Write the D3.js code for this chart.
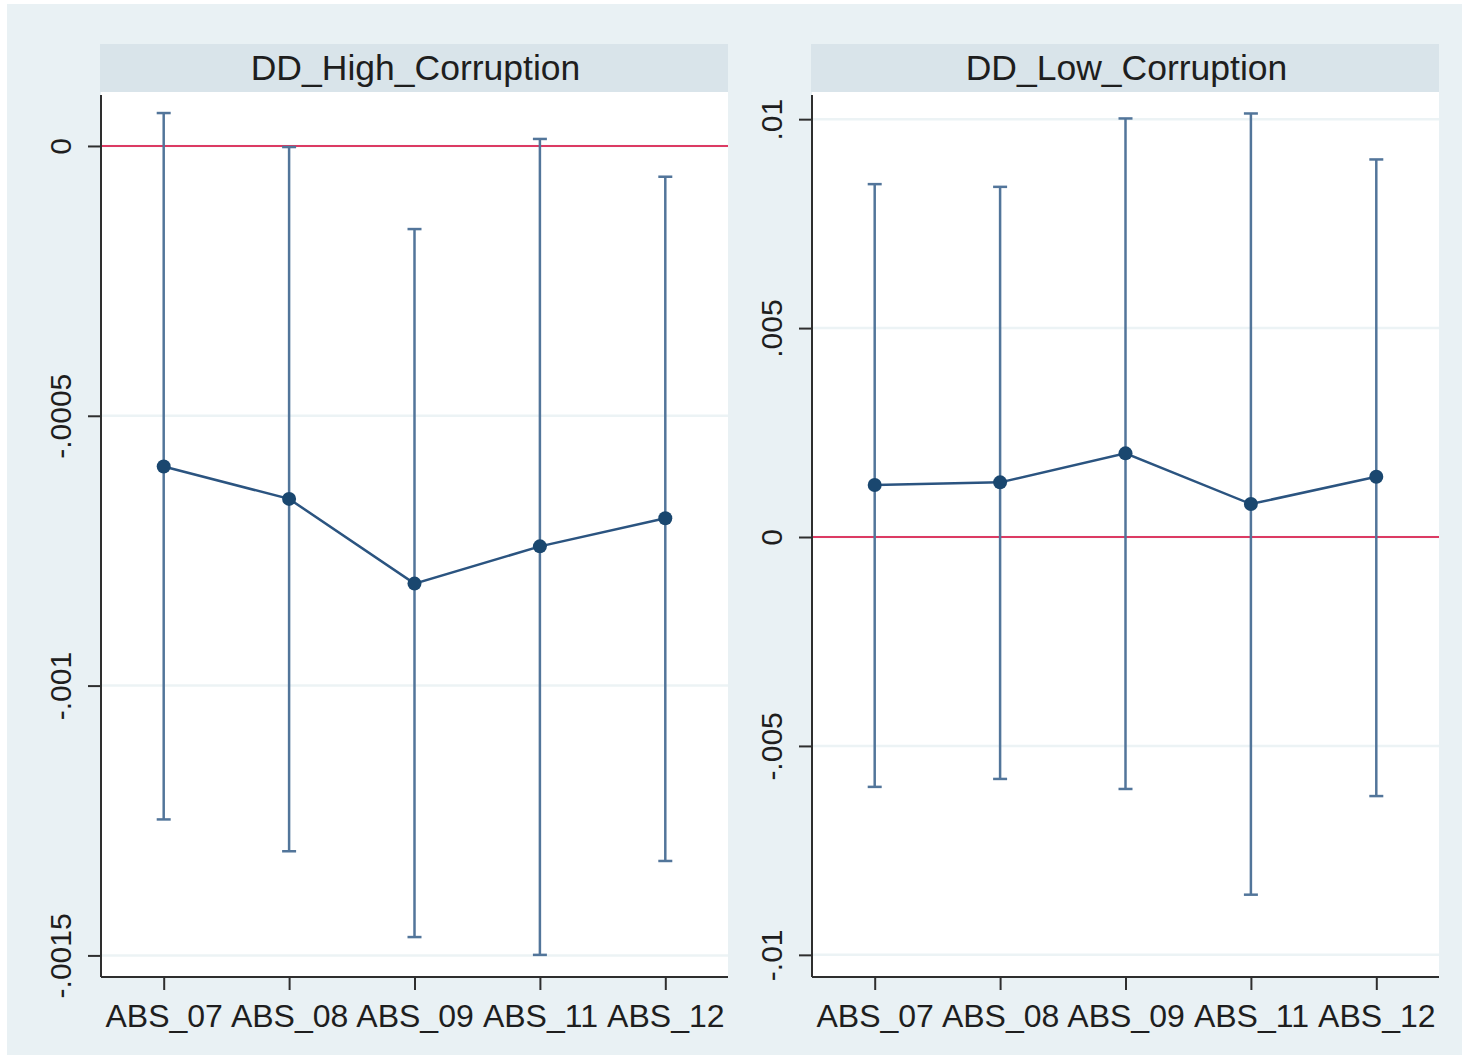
<!DOCTYPE html>
<html>
<head>
<meta charset="utf-8">
<script src="https://cdn.jsdelivr.net/npm/d3@7"></script>
<style>
  html, body { margin: 0; padding: 0; background: #ffffff; }
  svg { display: block; font-family: "Liberation Sans", Arial, sans-serif; }
</style>
</head>
<body>
<svg id="chart" width="1462" height="1055"></svg>
<script>
// Coefficient estimates with 95% confidence intervals, by corruption group
const categories = ["ABS_07", "ABS_08", "ABS_09", "ABS_11", "ABS_12"];

const highTitle = "DD_High_Corruption";
const highEstimate = [-0.000594, -0.000654, -0.000811, -0.000742, -0.000690];
const highUpper    = [0.000061, -0.000002, -0.000154, 0.000013, -0.000057];
const highLower    = [-0.001248, -0.001307, -0.001466, -0.001499, -0.001325];
const highTicks      = [0, -0.0005, -0.001, -0.0015];
const highTickLabels = ["0", "-.0005", "-.001", "-.0015"];
const highDomain     = [-0.00154, 0.0001];

const lowTitle = "DD_Low_Corruption";
const lowEstimate = [0.001244, 0.001308, 0.002002, 0.000789, 0.001443];
const lowUpper    = [0.008445, 0.008380, 0.010017, 0.010136, 0.009036];
const lowLower    = [-0.005980, -0.005790, -0.006030, -0.008560, -0.006200];
const lowTicks      = [0.01, 0.005, 0, -0.005, -0.01];
const lowTickLabels = [".01", ".005", "0", "-.005", "-.01"];
const lowDomain     = [-0.01053, 0.01065];

const panels = [
  { title: highTitle, est: highEstimate, hi: highUpper, lo: highLower,
    ticks: highTicks, labels: highTickLabels, domain: highDomain, left: 101 },
  { title: lowTitle, est: lowEstimate, hi: lowUpper, lo: lowLower,
    ticks: lowTicks, labels: lowTickLabels, domain: lowDomain, left: 812 }
];

const svg = d3.select("#chart");
const C = {
  outer: "#e9f1f4", strip: "#d9e4ea", grid: "#ecf3f5",
  axis: "#2e2e2e", ref: "#dc3b63", ci: "#52759a", line: "#2b5480", marker: "#1a476f",
  text: "#1e1e1e"
};

// graph region background
svg.append("rect").attr("x", 7).attr("y", 4).attr("width", 1455).attr("height", 1051)
  .attr("fill", C.outer);

const plotW = 627, stripTop = 44, plotTop = 92, plotBottom = 977;

panels.forEach(p => {
  const g = svg.append("g");
  const x = d3.scalePoint().domain(categories).range([p.left, p.left + plotW]).padding(0.5);
  const y = d3.scaleLinear().domain(p.domain).range([plotBottom, plotTop]);

  // title strip
  g.append("rect").attr("x", p.left - 1).attr("y", stripTop).attr("width", plotW + 1)
    .attr("height", plotTop - stripTop).attr("fill", C.strip);
  g.append("text").attr("x", p.left + plotW / 2 + 1).attr("y", 80)
    .attr("text-anchor", "middle").attr("font-size", 35.5).attr("fill", C.text)
    .text(p.title);

  // plot region
  g.append("rect").attr("x", p.left).attr("y", plotTop).attr("width", plotW)
    .attr("height", plotBottom - plotTop).attr("fill", "#ffffff");

  // gridlines
  g.selectAll(".grid").data(p.ticks).join("line")
    .attr("x1", p.left).attr("x2", p.left + plotW)
    .attr("y1", d => y(d)).attr("y2", d => y(d))
    .attr("stroke", C.grid).attr("stroke-width", 2.5);

  // zero reference line
  g.append("line").attr("x1", p.left).attr("x2", p.left + plotW)
    .attr("y1", y(0)).attr("y2", y(0))
    .attr("stroke", C.ref).attr("stroke-width", 2);

  // y axis
  const yAxis = d3.axisLeft(y).tickValues(p.ticks).tickSize(13)
    .tickFormat((d, i) => p.labels[i]);
  const ya = g.append("g").attr("transform", `translate(${p.left},0)`).call(yAxis);
  ya.select(".domain").attr("stroke", C.axis).attr("stroke-width", 2)
    .attr("d", `M-0,${plotTop + 3}V${plotBottom}`);
  ya.selectAll(".tick line").attr("stroke", C.axis).attr("stroke-width", 2);
  ya.selectAll(".tick text")
    .attr("font-size", 30).attr("fill", C.text)
    .attr("font-family", "Liberation Sans, Arial, sans-serif")
    .attr("x", null).attr("dy", null)
    .attr("text-anchor", "middle")
    .attr("transform", "translate(-30,0) rotate(-90)");

  // x axis
  const xAxis = d3.axisBottom(x).tickSize(13);
  const xa = g.append("g").attr("transform", `translate(0,${plotBottom})`).call(xAxis);
  xa.select(".domain").attr("stroke", C.axis).attr("stroke-width", 2)
    .attr("d", `M${p.left},0H${p.left + plotW}`);
  xa.selectAll(".tick line").attr("stroke", C.axis).attr("stroke-width", 2);
  xa.selectAll(".tick text")
    .attr("font-size", 32).attr("fill", C.text)
    .attr("font-family", "Liberation Sans, Arial, sans-serif")
    .attr("y", 50).attr("dy", null);

  // confidence intervals with caps
  const rows = categories.map((c, i) => ({ c, est: p.est[i], hi: p.hi[i], lo: p.lo[i] }));
  const ci = g.append("g").attr("stroke", C.ci).attr("stroke-width", 2.5).attr("fill", "none");
  ci.selectAll(".bar").data(rows).join("line")
    .attr("x1", d => x(d.c)).attr("x2", d => x(d.c))
    .attr("y1", d => y(d.hi)).attr("y2", d => y(d.lo));
  ci.selectAll(".capHi").data(rows).join("line")
    .attr("x1", d => x(d.c) - 7).attr("x2", d => x(d.c) + 7)
    .attr("y1", d => y(d.hi)).attr("y2", d => y(d.hi));
  ci.selectAll(".capLo").data(rows).join("line")
    .attr("x1", d => x(d.c) - 7).attr("x2", d => x(d.c) + 7)
    .attr("y1", d => y(d.lo)).attr("y2", d => y(d.lo));

  // connected point estimates
  g.append("path").datum(rows)
    .attr("d", d3.line().x(d => x(d.c)).y(d => y(d.est)))
    .attr("fill", "none").attr("stroke", C.line).attr("stroke-width", 2.5);
  g.selectAll(".pt").data(rows).join("circle")
    .attr("cx", d => x(d.c)).attr("cy", d => y(d.est)).attr("r", 7)
    .attr("fill", C.marker);
});
</script>
</body>
</html>
